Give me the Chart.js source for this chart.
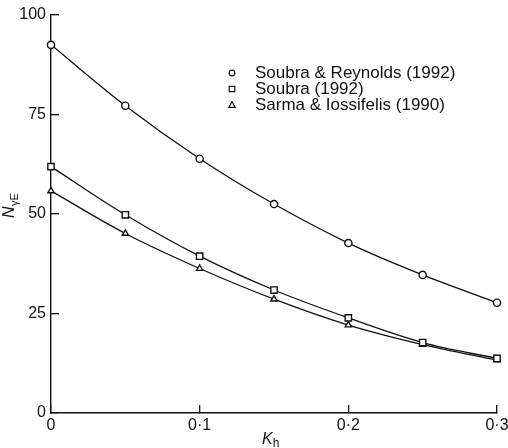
<!DOCTYPE html>
<html>
<head>
<meta charset="utf-8">
<script src="https://cdn.jsdelivr.net/npm/chart.js@4.4.1/dist/chart.umd.min.js"></script>
<style>
  html, body { margin: 0; padding: 0; background: #fff; }
  #wrap { width: 508px; height: 448px; }
</style>
</head>
<body>
<div id="wrap"><canvas id="chart" width="508" height="448"></canvas></div>
<script>
// Values
const kh = [0, 0.05, 0.1, 0.15, 0.2, 0.25, 0.3];
const soubraReynolds = [92.5, 77.2, 63.9, 52.5, 42.7, 34.7, 27.7];
const soubra = [61.9, 49.8, 39.4, 30.9, 23.9, 17.7, 13.7];
const sarma = [55.8, 45.1, 36.3, 28.6, 22.1, 17.2, 13.3];

const seriesNames = ['Soubra & Reynolds (1992)', 'Soubra (1992)', 'Sarma & Iossifelis (1990)'];
const seriesStyles = ['circle', 'rect', 'triangle'];

const xTicks = [0, 0.1, 0.2, 0.3];
const xTickLabels = ['0', '0·1', '0·2', '0·3'];
const yTicks = [0, 25, 50, 75, 100];

const FONT = '"Liberation Sans", Arial, Helvetica, sans-serif';

function toPoints(values) {
    return values.map((v, i) => ({ x: kh[i], y: v }));
}

function makeDataset(label, values, style) {
    return {
        label: label,
        data: toPoints(values),
        borderColor: '#111',
        borderWidth: 1.3,
        cubicInterpolationMode: 'monotone',
        pointStyle: style,
        pointRadius: style === 'rect' ? 4.5 : 3.6,
        pointBackgroundColor: '#fff',
        pointBorderColor: '#111',
        pointBorderWidth: 1.4,
        clip: false
    };
}

// Titles and the legend are drawn by hand (subscripts, legend inside plot)
const extrasPlugin = {
    id: 'extras',
    afterDraw(c) {
        const ctx = c.ctx;
        ctx.save();
        ctx.fillStyle = '#111';
        ctx.strokeStyle = '#111';

        // Legend
        ctx.font = '17px ' + FONT;
        ctx.textBaseline = 'middle';
        const rows = [73, 89, 105];
        for (let i = 0; i < seriesNames.length; i++) {
            const y = rows[i];
            const x = 232;
            ctx.lineWidth = 1.2;
            ctx.beginPath();
            if (seriesStyles[i] === 'circle') {
                ctx.arc(x, y, 2.8, 0, Math.PI * 2);
            } else if (seriesStyles[i] === 'rect') {
                ctx.rect(x - 2.8, y - 2.6, 5.6, 5.2);
            } else {
                ctx.moveTo(x, y - 3.2);
                ctx.lineTo(x + 3.2, y + 2.4);
                ctx.lineTo(x - 3.2, y + 2.4);
                ctx.closePath();
            }
            ctx.stroke();
            ctx.fillText(seriesNames[i], 255, y);
        }

        // Y axis title, rotated: N with subscript γE
        ctx.save();
        ctx.translate(14, 218);
        ctx.rotate(-Math.PI / 2);
        ctx.textBaseline = 'alphabetic';
        ctx.font = 'italic 16px ' + FONT;
        ctx.fillText('N', 0, 0);
        const wN = ctx.measureText('N').width;
        ctx.font = '11px ' + FONT;
        ctx.fillText('γE', wN + 0.5, 4);
        ctx.restore();

        // X axis title: K with subscript h
        ctx.textBaseline = 'alphabetic';
        ctx.font = 'italic 16px ' + FONT;
        ctx.fillText('K', 262, 444);
        const wK = ctx.measureText('K').width;
        ctx.font = '12px ' + FONT;
        ctx.fillText('h', 262 + wK, 447);

        ctx.restore();
    }
};

const ctx = document.getElementById('chart').getContext('2d');
const chart = new Chart(ctx, {
    type: 'line',
    data: {
        datasets: [
            makeDataset(seriesNames[0], soubraReynolds, seriesStyles[0]),
            makeDataset(seriesNames[1], soubra, seriesStyles[1]),
            makeDataset(seriesNames[2], sarma, seriesStyles[2])
        ]
    },
    options: {
        responsive: false,
        animation: false,
        layout: { padding: { top: 15, right: 11, left: 0, bottom: 0 } },
        plugins: {
            legend: { display: false },
            tooltip: { enabled: false }
        },
        scales: {
            x: {
                type: 'linear',
                min: 0,
                max: 0.3,
                afterBuildTicks: s => { s.ticks = xTicks.map(v => ({ value: v })); },
                afterFit: s => {
                    s.height = 35;
                    s.paddingLeft = 0; s.paddingRight = 0;
                },
                ticks: {
                    color: '#111',
                    font: { size: 16, family: FONT },
                    padding: 11,
                    maxRotation: 0,
                    callback: (v, i) => xTickLabels[i]
                },
                grid: {
                    drawOnChartArea: false,
                    drawTicks: true,
                    tickLength: -8,
                    color: '#111',
                    lineWidth: 1.3
                },
                border: { display: true, color: '#111', width: 1.4 }
            },
            y: {
                type: 'linear',
                min: 0,
                max: 100,
                afterBuildTicks: s => { s.ticks = yTicks.map(v => ({ value: v })); },
                afterFit: s => {
                    s.width = 51;
                    s.paddingTop = 0; s.paddingBottom = 0;
                },
                ticks: {
                    color: '#111',
                    font: { size: 16, family: FONT },
                    padding: 13
                },
                grid: {
                    drawOnChartArea: false,
                    drawTicks: true,
                    tickLength: -8,
                    color: '#111',
                    lineWidth: 1.3
                },
                border: { display: true, color: '#111', width: 1.4 }
            }
        }
    },
    plugins: [extrasPlugin]
});
</script>
</body>
</html>
